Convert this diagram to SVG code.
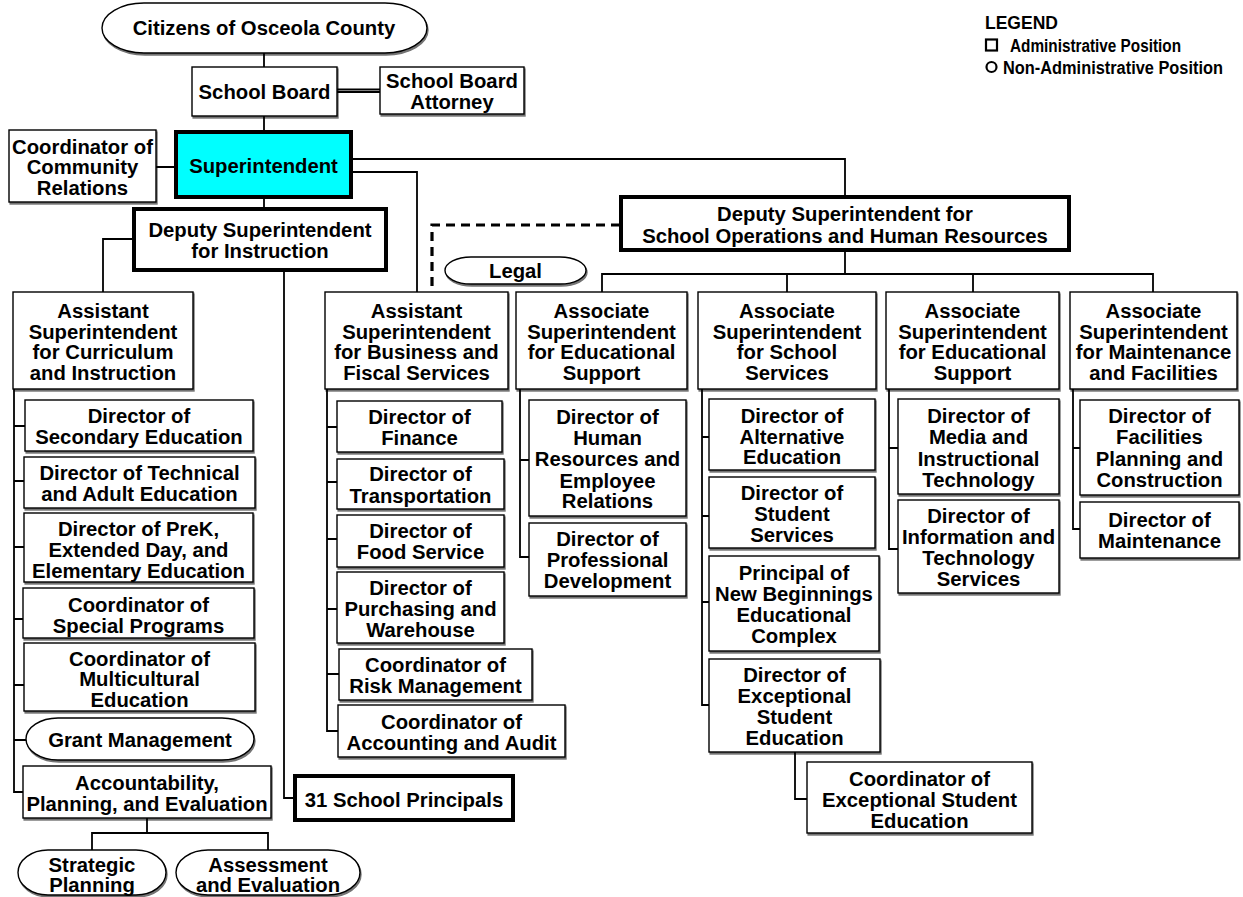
<svg xmlns="http://www.w3.org/2000/svg" width="1243" height="897" viewBox="0 0 1243 897">
<defs>
<filter id="sh" x="-5%" y="-5%" width="110%" height="115%">
<feOffset in="SourceAlpha" dx="1.2" dy="1.5" result="o"/>
<feComponentTransfer in="o" result="g"><feFuncA type="linear" slope="0.55"/></feComponentTransfer>
<feMerge><feMergeNode in="g"/><feMergeNode in="SourceGraphic"/></feMerge>
</filter>
</defs>
<style>
.b{fill:#fff;stroke:#000;stroke-width:1.4;filter:url(#sh)}
.k{fill:#fff;stroke:#000;stroke-width:4}
.cy{fill:#00ffff}
text{font-family:"Liberation Sans",Arial,Helvetica,sans-serif;font-weight:bold;font-size:20.3px;text-anchor:middle;fill:#000}
.lg{font-size:17.5px;text-anchor:start}
.c{fill:none;stroke:#000;stroke-width:1.8}
.d{fill:none;stroke:#000;stroke-width:3.2;stroke-dasharray:9 6}
</style>

<rect width="1243" height="897" fill="#fff"/>

<!-- connectors -->
<g id="connectors">
<path class="c" d="M264,53V67M264,116V132M156,167H176M351,159H845V197M351,172H417V292M264,197V209M134,239H103V292M284,270V798H295"/>
<path class="c" d="M337,89.5H380M337,92H380" stroke-width="1.4"/>
<path class="d" d="M620,225H432V292"/>
<path class="c" d="M845,250V274M602,292V274H1153V292M787,274V292M973,274V292"/>
<path class="c" d="M14,389V792H23M14,426H25M14,481H24M14,547H24M14,619H23M14,685H24M14,740H26"/>
<path class="c" d="M147,818V833M92,850V833H268V850"/>
<path class="c" d="M327,389V731H338M327,427H337M327,482H337M327,539H337M327,609H337M327,674H339"/>
<path class="c" d="M520,389V557H529M520,460H529"/>
<path class="c" d="M702,389V705H709M702,437H709M702,516H709M702,602H709"/>
<path class="c" d="M795,752V799H807"/>
<path class="c" d="M889,389V549H898M889,448H898"/>
<path class="c" d="M1073,389V529H1080M1073,448H1080"/>
</g>

<!-- legend -->
<g id="legend">
<text class="lg" x="985" y="29">LEGEND</text>
<rect x="986" y="39.5" width="11" height="11" fill="none" stroke="#000" stroke-width="2.2"/>
<text class="lg" x="1010" y="51.5" textLength="171" lengthAdjust="spacingAndGlyphs">Administrative Position</text>
<circle cx="991.5" cy="67" r="5" fill="none" stroke="#000" stroke-width="2.2"/>
<text class="lg" x="1003" y="73.5" textLength="220" lengthAdjust="spacingAndGlyphs">Non-Administrative Position</text>
</g>

<!-- top of the organisation -->
<g id="citizens"><rect class="b" x="102" y="3" width="325" height="50" rx="42" ry="25"/><text x="264" y="35">Citizens of Osceola County</text></g>
<g id="school-board"><rect class="b" x="192" y="67" width="145" height="49"/><text x="264.5" y="99">School Board</text></g>
<g id="attorney"><rect class="b" x="380" y="67" width="144" height="47"/><text x="452" y="88">School Board</text><text x="452" y="109">Attorney</text></g>
<g id="superintendent"><rect class="k cy" x="176" y="132" width="175" height="65"/><text x="263.5" y="173">Superintendent</text></g>
<g id="community-relations"><rect class="b" x="9" y="130" width="147" height="72"/><text x="82.5" y="154">Coordinator of</text><text x="82.5" y="174">Community</text><text x="82.5" y="195">Relations</text></g>
<g id="deputy-instruction"><rect class="k" x="134" y="209" width="252" height="61"/><text x="260" y="237">Deputy Superintendent</text><text x="260" y="258">for Instruction</text></g>
<g id="deputy-operations"><rect class="k" x="621" y="197" width="448" height="53"/><text x="845" y="221">Deputy Superintendent for</text><text x="845" y="243">School Operations and Human Resources</text></g>
<g id="legal"><rect class="b" x="445" y="257" width="141" height="27" rx="26" ry="13.5"/><text x="515.5" y="278">Legal</text></g>

<!-- second level -->
<g id="asst-curriculum"><rect class="b" x="13" y="292" width="180" height="97"/><text x="103" y="318">Assistant</text><text x="103" y="339">Superintendent</text><text x="103" y="359">for Curriculum</text><text x="103" y="380">and Instruction</text></g>
<g id="asst-business"><rect class="b" x="325" y="292" width="183" height="97"/><text x="416.5" y="318">Assistant</text><text x="416.5" y="339">Superintendent</text><text x="416.5" y="359">for Business and</text><text x="416.5" y="380">Fiscal Services</text></g>
<g id="assoc-educational-support"><rect class="b" x="516" y="292" width="171" height="97"/><text x="601.5" y="318">Associate</text><text x="601.5" y="339">Superintendent</text><text x="601.5" y="359">for Educational</text><text x="601.5" y="380">Support</text></g>
<g id="assoc-school-services"><rect class="b" x="698" y="292" width="178" height="97"/><text x="787" y="318">Associate</text><text x="787" y="339">Superintendent</text><text x="787" y="359">for School</text><text x="787" y="380">Services</text></g>
<g id="assoc-educational-support-2"><rect class="b" x="886" y="292" width="173" height="97"/><text x="972.5" y="318">Associate</text><text x="972.5" y="339">Superintendent</text><text x="972.5" y="359">for Educational</text><text x="972.5" y="380">Support</text></g>
<g id="assoc-maintenance"><rect class="b" x="1070" y="292" width="167" height="97"/><text x="1153.5" y="318">Associate</text><text x="1153.5" y="339">Superintendent</text><text x="1153.5" y="359">for Maintenance</text><text x="1153.5" y="380">and Facilities</text></g>

<!-- curriculum and instruction -->
<g id="dir-secondary"><rect class="b" x="25" y="400" width="228" height="51"/><text x="139" y="423">Director of</text><text x="139" y="444">Secondary Education</text></g>
<g id="dir-technical"><rect class="b" x="24" y="457" width="231" height="51"/><text x="139.5" y="480">Director of Technical</text><text x="139.5" y="501">and Adult Education</text></g>
<g id="dir-prek"><rect class="b" x="24" y="513" width="229" height="69"/><text x="138.5" y="536">Director of PreK,</text><text x="138.5" y="557">Extended Day, and</text><text x="138.5" y="578">Elementary Education</text></g>
<g id="coord-special"><rect class="b" x="23" y="588" width="231" height="50"/><text x="138.5" y="612">Coordinator of</text><text x="138.5" y="633">Special Programs</text></g>
<g id="coord-multicultural"><rect class="b" x="24" y="643" width="231" height="68"/><text x="139.5" y="666">Coordinator of</text><text x="139.5" y="686">Multicultural</text><text x="139.5" y="707">Education</text></g>
<g id="grant-management"><rect class="b" x="26" y="718" width="228" height="42" rx="32" ry="21"/><text x="140" y="747">Grant Management</text></g>
<g id="accountability"><rect class="b" x="23" y="766" width="248" height="52"/><text x="147" y="790">Accountability,</text><text x="147" y="811">Planning, and Evaluation</text></g>
<g id="strategic-planning"><rect class="b" x="18" y="850" width="148" height="45" rx="30" ry="22.5"/><text x="92" y="872">Strategic</text><text x="92" y="892">Planning</text></g>
<g id="assessment"><rect class="b" x="176" y="850" width="184" height="45" rx="32" ry="22.5"/><text x="268" y="872">Assessment</text><text x="268" y="892">and Evaluation</text></g>
<g id="school-principals"><rect class="k" x="295" y="776" width="218" height="44"/><text x="404" y="807">31 School Principals</text></g>

<!-- business and fiscal services -->
<g id="dir-finance"><rect class="b" x="337" y="401" width="165" height="51"/><text x="419.5" y="424">Director of</text><text x="419.5" y="445">Finance</text></g>
<g id="dir-transportation"><rect class="b" x="337" y="459" width="167" height="50"/><text x="420.5" y="481">Director of</text><text x="420.5" y="503">Transportation</text></g>
<g id="dir-food"><rect class="b" x="337" y="515" width="167" height="52"/><text x="420.5" y="538">Director of</text><text x="420.5" y="559">Food Service</text></g>
<g id="dir-purchasing"><rect class="b" x="337" y="572" width="167" height="71"/><text x="420.5" y="595">Director of</text><text x="420.5" y="616">Purchasing and</text><text x="420.5" y="637">Warehouse</text></g>
<g id="coord-risk"><rect class="b" x="339" y="649" width="193" height="51"/><text x="435.5" y="672">Coordinator of</text><text x="435.5" y="693">Risk Management</text></g>
<g id="coord-accounting"><rect class="b" x="338" y="705" width="227" height="52"/><text x="451.5" y="729">Coordinator of</text><text x="451.5" y="750">Accounting and Audit</text></g>

<!-- educational support -->
<g id="dir-hr"><rect class="b" x="529" y="400" width="157" height="116"/><text x="607.5" y="424">Director of</text><text x="607.5" y="445">Human</text><text x="607.5" y="466">Resources and</text><text x="607.5" y="488">Employee</text><text x="607.5" y="508">Relations</text></g>
<g id="dir-professional"><rect class="b" x="529" y="523" width="157" height="73"/><text x="607.5" y="546">Director of</text><text x="607.5" y="567">Professional</text><text x="607.5" y="588">Development</text></g>

<!-- school services -->
<g id="dir-alternative"><rect class="b" x="709" y="399" width="166" height="71"/><text x="792" y="423">Director of</text><text x="792" y="444">Alternative</text><text x="792" y="464">Education</text></g>
<g id="dir-student"><rect class="b" x="709" y="477" width="166" height="71"/><text x="792" y="500">Director of</text><text x="792" y="521">Student</text><text x="792" y="542">Services</text></g>
<g id="principal-new-beginnings"><rect class="b" x="709" y="556" width="170" height="95"/><text x="794" y="580">Principal of</text><text x="794" y="601">New Beginnings</text><text x="794" y="622">Educational</text><text x="794" y="643">Complex</text></g>
<g id="dir-exceptional"><rect class="b" x="709" y="659" width="171" height="93"/><text x="794.5" y="682">Director of</text><text x="794.5" y="703">Exceptional</text><text x="794.5" y="724">Student</text><text x="794.5" y="745">Education</text></g>
<g id="coord-exceptional"><rect class="b" x="807" y="762" width="225" height="71"/><text x="919.5" y="786">Coordinator of</text><text x="919.5" y="807">Exceptional Student</text><text x="919.5" y="828">Education</text></g>

<!-- educational support (technology) -->
<g id="dir-media"><rect class="b" x="898" y="399" width="161" height="95"/><text x="978.5" y="423">Director of</text><text x="978.5" y="444">Media and</text><text x="978.5" y="466">Instructional</text><text x="978.5" y="487">Technology</text></g>
<g id="dir-information"><rect class="b" x="898" y="500" width="161" height="93"/><text x="978.5" y="523">Director of</text><text x="978.5" y="544">Information and</text><text x="978.5" y="565">Technology</text><text x="978.5" y="586">Services</text></g>

<!-- maintenance and facilities -->
<g id="dir-facilities"><rect class="b" x="1080" y="400" width="159" height="95"/><text x="1159.5" y="423">Director of</text><text x="1159.5" y="444">Facilities</text><text x="1159.5" y="466">Planning and</text><text x="1159.5" y="487">Construction</text></g>
<g id="dir-maintenance"><rect class="b" x="1080" y="502" width="159" height="56"/><text x="1159.5" y="527">Director of</text><text x="1159.5" y="548">Maintenance</text></g>
</svg>
